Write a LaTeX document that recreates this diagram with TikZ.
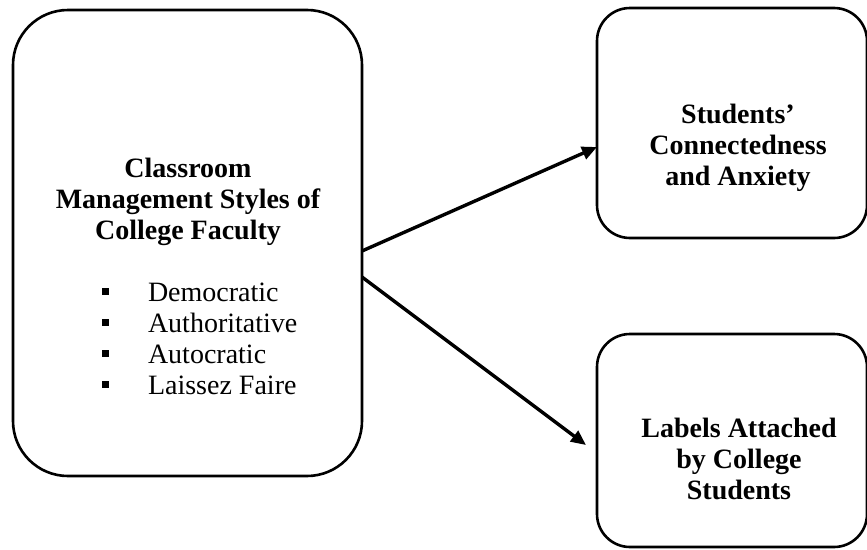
\documentclass[tikz,border=0pt]{standalone}
\usepackage{fontspec}
\setmainfont{Liberation Serif}
\usetikzlibrary{arrows.meta}
\tikzset{
  box/.style={draw=black, line width=2.6pt, rectangle, inner sep=0pt, outer sep=0pt},
  txt/.style={inner sep=0pt, outer sep=0pt, anchor=base, font=\fontsize{28}{31}\selectfont},
  arr/.style={line width=3.4pt, -{Triangle[length=15pt,width=13pt]}}
}
\newcommand{\sqbullet}{\raisebox{6.5pt}{\rule{7pt}{7pt}}}
\begin{document}
\begin{tikzpicture}[x=1pt,y=-1pt]
\clip (0,0) rectangle (867,549);
\useasboundingbox (0,0) rectangle (867,549);
% boxes
\node[box, rounded corners=55pt, minimum width=349pt, minimum height=466pt] (L) at (187.5,243) {};
\node[box, rounded corners=33pt, minimum width=270pt, minimum height=230pt] (T) at (732,123) {};
\node[box, rounded corners=33pt, minimum width=270pt, minimum height=213pt] (B) at (732,440.5) {};
% texts
\node[txt] (Ltitle) at (188,177) {\begin{tabular}[t]{@{}c@{}}\bfseries Classroom\\ \bfseries Management Styles of\\ \bfseries College Faculty\end{tabular}};
\node[txt, anchor=base west] (Llist) at (102,301) {\begin{tabular}[t]{@{}l@{\hspace{39pt}}l@{}}\sqbullet & Democratic\\ \sqbullet & Authoritative\\ \sqbullet & Autocratic\\ \sqbullet & Laissez Faire\end{tabular}};
\node[txt] (Ttext) at (738,123) {\begin{tabular}[t]{@{}c@{}}\bfseries Students’\\ \bfseries Connectedness\\ \bfseries and Anxiety\end{tabular}};
\node[txt] (Btext) at (739,437) {\begin{tabular}[t]{@{}c@{}}\bfseries Labels Attached\\ \bfseries by College\\ \bfseries Students\end{tabular}};
% arrows
\draw[arr] ([yshift=-8pt]L.east) -- ([yshift=-24pt]T.west);
\draw[arr] ([yshift=-34pt]L.east) -- ([xshift=-11pt,yshift=-4.5pt]B.west);
\end{tikzpicture}
\end{document}
